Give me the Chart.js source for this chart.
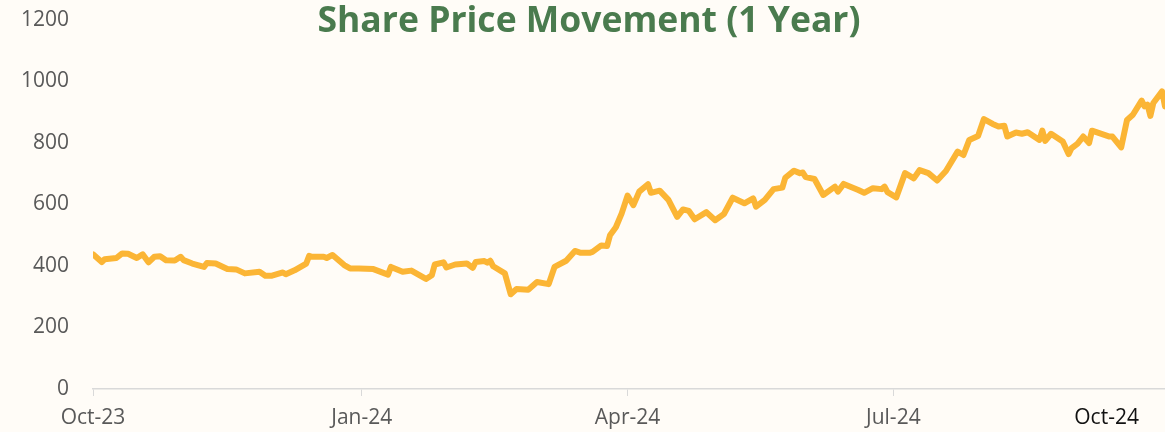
<!DOCTYPE html>
<html>
<head>
<meta charset="utf-8">
<script src="https://cdn.jsdelivr.net/npm/chart.js@4"></script>
<style>
  html, body { margin: 0; padding: 0; background: #fffcf7; }
  #wrap { position: relative; width: 1165px; height: 432px; }
  #title {
    position: absolute; left: 0; width: 1178px; top: -2px;
    text-align: center; font: bold 35.5px "Open Sans", sans-serif;
    color: #4a7b4e; line-height: 40px; pointer-events: none;
  }
</style>
</head>
<body>
<div id="wrap">
  <canvas id="myChart" width="1165" height="432"></canvas>
  <div id="title">Share Price Movement (1 Year)</div>
</div>
<script>
// days counted from 1 Oct 2023
var days = [0,3,4,8,10,12,15,17,19,21,23,25,28,30,31,34,38,39,42,46,49,52,57,59,61,65,66,69,73,74,75,79,80,82,86,88,91,
  96,101,102,106,109,114,116,117,120,121,124,128,130,131,134,135,136,137,141,143,145,149,152,156,158,162,165,167,170,171,174,176,
  177,179,181,183,185,187,190,191,194,197,200,202,204,206,210,213,216,219,223,226,227,230,233,236,237,240,242,243,244,247,250,254,255,257,262,264,267,270,271,272,275,
  278,281,283,286,289,292,296,298,300,303,305,308,310,312,313,316,318,320,324,325,326,328,332,334,335,337,339,341,342,348,349,352,354,356,359,360,361,362,363,366,367];
var prices = [438,413,422,426,441,440,426,438,412,430,432,419,418,430,419,408,397,410,408,390,389,376,381,368,368,379,373,386,408,433,430,430,426,436,403,392,392,
  390,372,397,381,385,358,370,405,412,395,405,408,394,413,416,411,417,399,376,308,325,323,348,341,397,417,449,443,443,446,467,465,
  500,526,571,629,598,642,666,638,645,615,560,584,579,552,575,549,569,622,604,620,593,615,650,655,687,710,702,704,689,683,631,658,642,667,647,638,653,650,658,640,623,
  702,685,712,702,678,709,772,761,810,823,878,862,854,856,821,834,830,835,810,840,807,830,805,764,783,797,821,800,840,821,821,786,875,892,938,919,925,888,930,968,919];

var tickDays = [0, 92, 183, 274, 347];
var tickLabels = ["Oct-23", "Jan-24", "Apr-24", "Jul-24", "Oct-24"];
var yTicks = [0, 200, 400, 600, 800, 1000, 1200];

var points = days.map(function (d, i) { return { x: d, y: prices[i] }; });

var config = {
  type: "line",
  data: {
    datasets: [
      {
        label: "Share Price",
        data: points,
        borderColor: "#fbb535",
        borderWidth: 6,
        pointRadius: 0,
        tension: 0,
        borderJoinStyle: "round",
        borderCapStyle: "round",
      },
    ],
  },
  options: {
    responsive: false,
    animation: false,
    layout: { padding: { top: 20, right: 0, left: 0, bottom: 0 } },
    plugins: { legend: { display: false }, tooltip: { enabled: false } },
    scales: {
      x: {
        type: "linear",
        min: 0,
        max: 367,
        afterBuildTicks: function (axis) {
          axis.ticks = tickDays.map(function (v) { return { value: v }; });
        },
        afterFit: function (scale) { scale.height = 43; },
        grid: {
          drawOnChartArea: false,
          tickLength: 7,
          tickColor: function (ctx) { return ctx.index === 4 ? "rgba(0,0,0,0)" : "#d9d9d9"; },
        },
        border: { color: "#d9d9d9", width: 1.5 },
        ticks: {
          padding: 9,
          maxRotation: 0,
          autoSkip: false,
          color: function (ctx) { return ctx.index === 4 ? "#111" : "#595959"; },
          font: { family: "'Open Sans'", size: 21 },
          callback: function (value, index) { return tickLabels[index]; },
        },
      },
      y: {
        min: 0,
        max: 1200,
        afterBuildTicks: function (axis) {
          axis.ticks = yTicks.map(function (v) { return { value: v }; });
        },
        afterFit: function (scale) {
          scale.width = 93;
          scale.paddingTop = 0;
          scale.paddingBottom = 0;
        },
        grid: { display: false },
        border: { display: false },
        ticks: {
          padding: 16,
          color: "#595959",
          font: { family: "'Open Sans'", size: 21 },
          callback: function (value) { return String(value); },
        },
      },
    },
  },
};

var myChart = new Chart(document.getElementById("myChart"), config);
</script>
</body>
</html>
